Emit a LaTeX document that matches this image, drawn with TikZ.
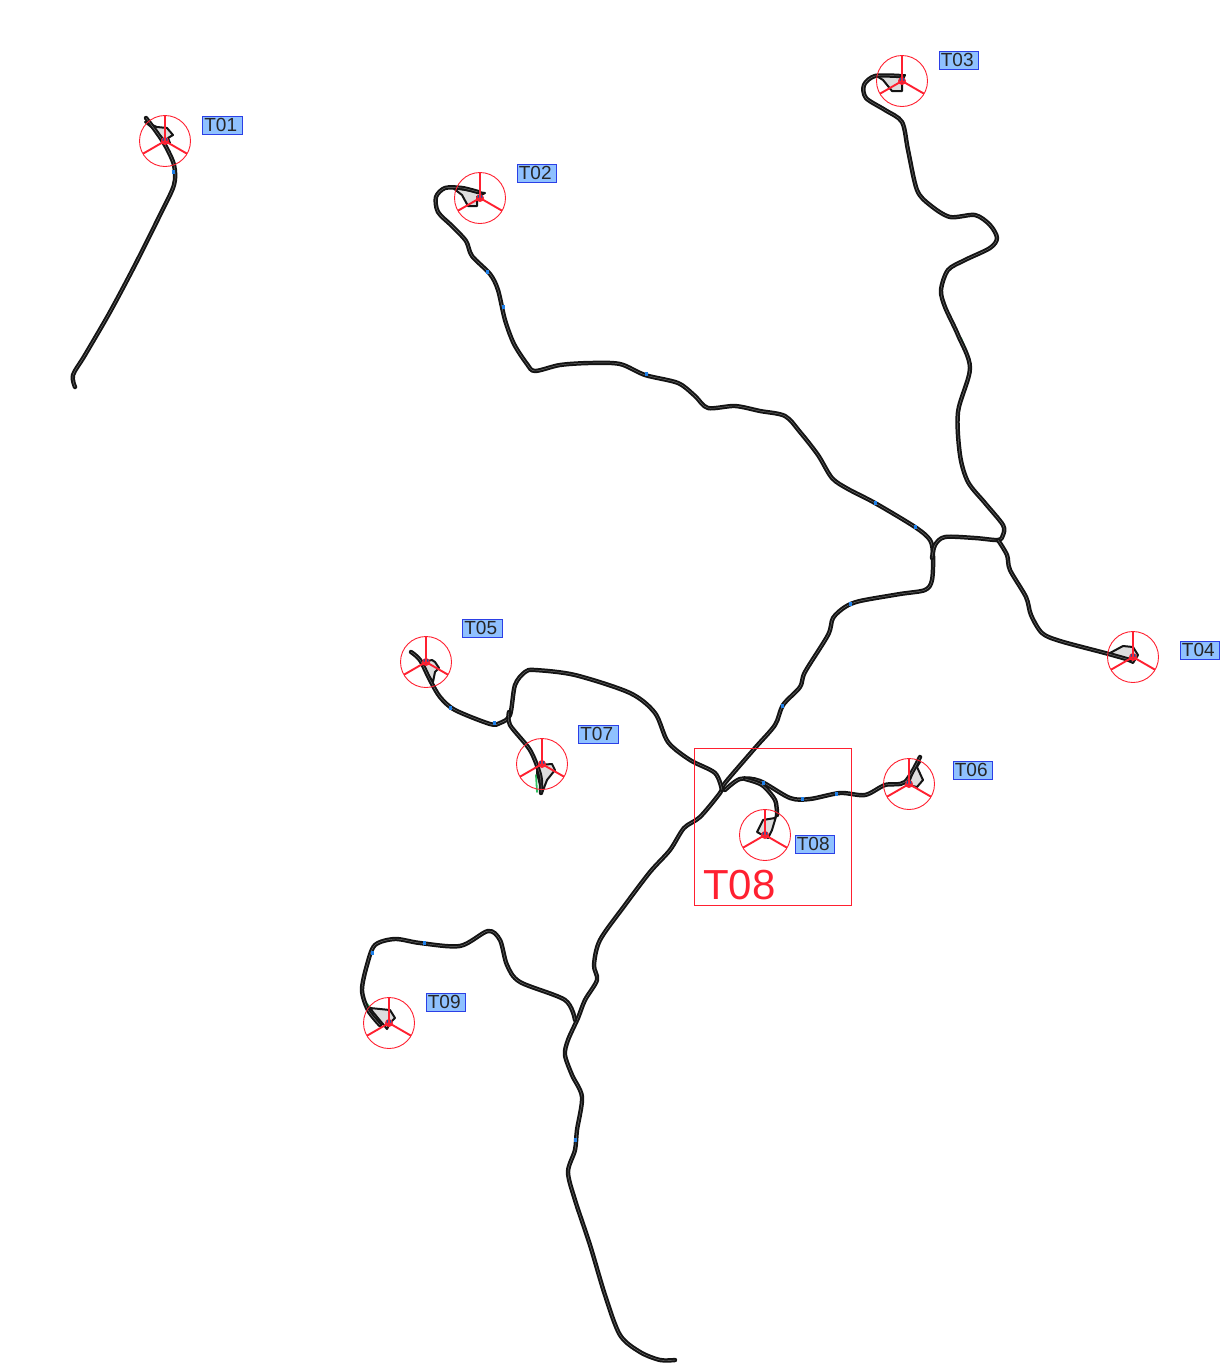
\documentclass[tikz,border=0pt]{standalone}
\usepackage{fontspec}
\setmainfont{Liberation Sans}
\definecolor{tagfill}{HTML}{8FC1FF}
\definecolor{tagedge}{HTML}{2B3FE6}
\definecolor{ringred}{HTML}{FF2030}
\definecolor{padfill}{HTML}{DDDDDD}
\definecolor{markblue}{HTML}{1E7FE8}
\definecolor{halo}{HTML}{2FC060}
\definecolor{roadcore}{HTML}{7A7A7A}
\tikzset{
  road/.style={draw=black!92,line width=2pt,double=roadcore,double distance=0.4pt,line cap=round,line join=round},
  padshape/.style={draw=black!92,fill=padfill,line width=2pt,line join=round},
  ring/.style={draw=ringred,line width=0.9pt},
  spoke/.style={draw=ringred,line width=1.9pt},
  hub/.style={circle,fill=ringred,inner sep=0pt,minimum size=8pt},
  hubdot/.style={circle,fill=markblue!70!black,inner sep=0pt,minimum size=5pt},
  tag/.style={draw=tagedge,fill=tagfill,line width=0.9pt,text=black!85,inner sep=0pt,minimum width=39.5pt,minimum height=18pt,font=\fontsize{19}{20}\selectfont},
  fringe/.style={draw=halo,line width=1.8pt,line cap=round},
  blip/.style={draw=markblue,line width=3.4pt}
}
\begin{document}
\begin{tikzpicture}[x=1pt,y=-1pt]
\useasboundingbox (0,0) rectangle (1226,1366);
% green fringe bits
\foreach \a/\b in {{910,160}/{915,185},{961,338}/{966,350},{959,452}/{962,462},{589,1240}/{594,1258},{648,873}/{655,865},{364,1000}/{380,1020},{109,312}/{114,303},{536,775}/{537,792},{684,828}/{691,824}}{
  \draw[fringe] (\a) -- (\b);
}
% pads
\foreach \p in {
 {(145,122)--(157,127)--(167,128)--(173,135)--(168,138)--(170,143)--(165,141)--(155,130)--cycle},
 {(453,188)--(485,193)--(477,197)--(477,206)--(468,206)--(462,195)--cycle},
 {(875,75)--(905,75)--(902,82)--(902,91)--(892,91)--(883,80)--cycle},
 {(1110,653)--(1123,646)--(1133,647)--(1138,655)--(1133,663)--cycle},
 {(423,662)--(432,660)--(435,662)--(439,668)--(435,672)--(433,682)--(423,667)--cycle},
 {(920,762)--(917,767)--(923,780)--(917,787)--(908,785)--(915,767)--cycle},
 {(538,765)--(552,764)--(555,770)--(547,780)--(542,793)--(537,773)--cycle},
 {(778,810)--(772,830)--(768,838)--(757,832)--(763,820)--(775,818)--cycle},
 {(370,1008)--(390,1010)--(395,1018)--(390,1023)--(387,1029)--(373,1012)--cycle}}{
  \expandafter\path\expandafter[\expandafter p\expandafter a\expandafter d\expandafter s\expandafter h\expandafter a\expandafter p\expandafter e\expandafter]\p;
}
% roads
\draw[road] plot[smooth,tension=0.5] coordinates {(146,118)(155,130)(165,145)(174,165)(174,185)(160,215)(135,265)(110,312)(85,355)(73,375)(75,387)};
\draw[road] plot[smooth,tension=0.5] coordinates {(478,192)(462,188)(445,188)(436,197)(438,212)(452,226)(466,241)(472,256)(490,274)(498,290)(505,320)(514,344)(527,364)(535,371)(560,365)(590,363)(620,364)(645,375)(678,383)(695,396)(708,408)(735,406)(760,411)(785,416)(800,432)(818,455)(832,478)(848,489)(875,503)(915,527)(930,540)(933,555)(932,580)(925,590)(900,594)(860,601)(845,607)(833,618)(828,635)(805,672)(800,687)(783,705)(775,725)(755,748)(725,783)(720,793)(700,817)(684,828)(670,850)(650,872)(625,905)(600,940)(594,965)(597,980)(585,1000)(578,1018)(568,1040)(565,1055)(572,1075)(582,1097)(577,1130)(575,1150)(568,1172)(575,1200)(590,1245)(605,1295)(620,1335)(640,1352)(660,1360)(675,1360)};
\draw[road] plot[smooth,tension=0.5] coordinates {(900,76)(875,76)(864,85)(866,98)(885,110)(902,122)(908,150)(917,190)(930,205)(950,217)(975,215)(990,225)(997,238)(990,248)(965,260)(948,270)(941,290)(945,307)(958,335)(970,368)(958,412)(960,455)(968,482)(985,503)(1003,525)(1003,535)(998,540)(975,538)(945,537)(935,545)(932,558)};
\draw[road] plot[smooth,tension=0.5] coordinates {(998,540)(1007,555)(1010,570)(1026,597)(1031,615)(1042,633)(1060,641)(1105,653)(1130,660)};
\draw[road] plot[smooth,tension=0.5] coordinates {(411,652)(420,660)(430,680)(440,697)(455,710)(490,724)(500,723)(510,715)(515,685)(525,672)(535,670)(575,675)(630,693)(655,713)(668,742)(690,760)(715,773)(722,790)};
\draw[road] plot[smooth,tension=0.5] coordinates {(541,793)(540,775)(530,750)(510,725)(509,712)};
\draw[road] plot[smooth,tension=0.5] coordinates {(920,757)(905,782)(885,785)(865,795)(840,793)(810,799)(790,798)(760,781)(740,779)(725,790)};
\draw[road] plot[smooth,tension=0.5] coordinates {(745,779)(762,785)(775,800)(777,815)};
\draw[road] plot[smooth,tension=0.5] coordinates {(575,1020)(565,1000)(520,982)(507,965)(500,940)(488,931)(460,946)(420,943)(395,939)(375,945)(367,965)(362,990)(368,1010)(380,1025)};
% blue marks
\foreach \x/\y in {173/172,487/272,503/307,646/374,875/503,850/604,782/706,575/1140,372/953,424/943,494/723,450/708,915/527,836/794,763/783,802/799}{
  \draw[blip] (\x-1.5,\y) -- (\x+1.5,\y);
}
% turbines
\foreach \n/\x/\y in {T01/165/141,T02/480/198,T03/902/81,T04/1133/657,T05/426/662,T06/909/784,T07/542/764,T08/765/835,T09/389/1023}{
  \begin{scope}[shift={(\x,\y)}]
    \node[hub] (hub\n) at (0,0) {};
    \node[hubdot] (dot\n) at (0,-1) {};
    \draw[ring] (0,0) circle[radius=25.5];
    \draw[spoke] (0,-25.5) -- (0,0) (-22,12.7) -- (0,0) (22,12.7) -- (0,0);
  \end{scope}
}
% labels
\foreach \n/\x/\y in {T01/222.5/125,T02/537/173,T03/959/60,T04/1200/650,T05/482.5/628,T06/973/770,T07/598.5/734,T08/815/844,T09/446/1002}{
  \node[tag] (tag\n) at (\x,\y) {\hspace*{-3.5pt}\n};
}
% highlight
\draw[draw=ringred,line width=0.9pt] (694.5,748.5) rectangle (851.5,905.5);
\node[anchor=base west,text=ringred,inner sep=0pt,font=\fontsize{42}{46}\selectfont] (bigtag) at (703,899) {T08};
\end{tikzpicture}
\end{document}
